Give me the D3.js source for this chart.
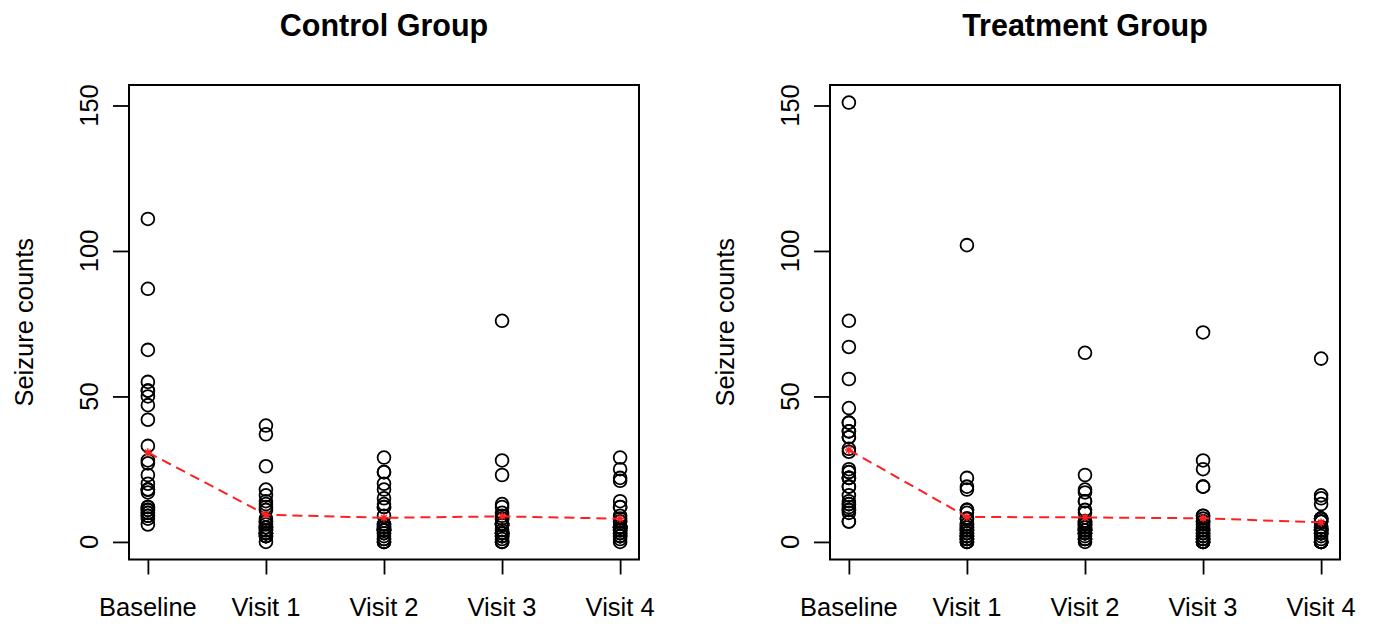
<!DOCTYPE html>
<html>
<head>
<meta charset="utf-8">
<script src="https://cdn.jsdelivr.net/npm/d3@7"></script>
<style>
  body { margin: 0; background: #fff; }
  svg text { font-family: "Liberation Sans", Arial, Helvetica, sans-serif; fill: #000; }
</style>
</head>
<body>
<svg id="chart" width="1375" height="626"></svg>
<script>
const visits = ['Baseline', 'Visit 1', 'Visit 2', 'Visit 3', 'Visit 4']
const yTicks = [0, 50, 100, 150]

// seizure counts per patient, one array per visit
const controlBaseline = [11, 11, 6, 8, 66, 27, 12, 52, 23, 10, 52, 33, 18, 42, 87, 50, 18, 111, 18, 20, 12, 9, 17, 28, 55, 9, 10, 47]
const controlVisit1 = [5, 3, 2, 4, 7, 5, 6, 40, 5, 14, 26, 12, 4, 7, 16, 11, 0, 37, 3, 3, 3, 3, 2, 8, 18, 2, 3, 13]
const controlVisit2 = [3, 5, 4, 4, 18, 2, 4, 20, 6, 13, 12, 6, 4, 9, 24, 0, 0, 29, 5, 0, 4, 4, 3, 12, 24, 1, 1, 15]
const controlVisit3 = [3, 3, 0, 1, 9, 8, 0, 23, 6, 6, 6, 8, 6, 12, 10, 0, 3, 28, 2, 6, 3, 3, 3, 2, 76, 2, 4, 13]
const controlVisit4 = [3, 3, 5, 4, 21, 7, 2, 12, 5, 0, 22, 5, 2, 14, 9, 5, 3, 29, 5, 7, 4, 4, 5, 8, 25, 1, 2, 12]

const treatBaseline = [76, 38, 19, 10, 19, 24, 31, 14, 11, 67, 41, 7, 22, 13, 46, 36, 38, 7, 36, 11, 151, 22, 41, 32, 56, 24, 16, 22, 25, 13, 12]
const treatVisit1 = [11, 8, 0, 3, 2, 4, 22, 5, 2, 3, 4, 2, 0, 5, 11, 10, 19, 1, 6, 2, 102, 4, 8, 1, 18, 6, 3, 1, 2, 0, 1]
const treatVisit2 = [14, 7, 4, 6, 6, 3, 17, 4, 4, 7, 18, 1, 2, 4, 14, 5, 7, 1, 10, 1, 65, 3, 6, 3, 11, 3, 5, 23, 3, 0, 4]
const treatVisit3 = [9, 9, 3, 1, 7, 1, 19, 7, 0, 7, 2, 1, 4, 0, 25, 3, 6, 2, 8, 0, 72, 2, 5, 1, 28, 4, 4, 19, 0, 0, 3]
const treatVisit4 = [8, 4, 0, 3, 4, 3, 16, 4, 4, 7, 5, 0, 0, 3, 15, 8, 7, 3, 8, 0, 63, 4, 7, 5, 13, 0, 3, 8, 1, 0, 2]

const panels = [
  { title: 'Control Group', left: 129, series: [controlBaseline, controlVisit1, controlVisit2, controlVisit3, controlVisit4] },
  { title: 'Treatment Group', left: 830, series: [treatBaseline, treatVisit1, treatVisit2, treatVisit3, treatVisit4] }
]

const svg = d3.select('#chart')
const W = 510
const TOP = 85
const BOTTOM = 559.5

// R-style 4% padding around the data range
const yMin = 0, yMax = 151
const yPad = (yMax - yMin) * 0.04
const y = d3.scaleLinear().domain([yMin - yPad, yMax + yPad]).range([BOTTOM, TOP])

panels.forEach(p => {
  const x = d3.scaleLinear().domain([0.84, 5.16]).range([p.left, p.left + W])
  const g = svg.append('g')

  g.append('text')
    .attr('x', p.left + W / 2)
    .attr('y', 36)
    .attr('text-anchor', 'middle')
    .style('font-size', '30.5px')
    .style('font-weight', 'bold')
    .text(p.title)

  // y axis
  const yAxis = d3.axisLeft(y).tickValues(yTicks).tickSize(16).tickFormat('')
  const ya = g.append('g').attr('transform', `translate(${p.left},0)`).call(yAxis)
  ya.select('.domain').remove()
  ya.selectAll('line').attr('stroke', '#000').attr('stroke-width', 1.8)

  g.selectAll('.ylab')
    .data(yTicks)
    .join('text')
    .attr('transform', d => `translate(${p.left - 31},${y(d)}) rotate(-90)`)
    .attr('text-anchor', 'middle')
    .style('font-size', '25.5px')
    .text(d => d)

  g.append('text')
    .attr('transform', `translate(${p.left - 96},${(TOP + BOTTOM) / 2}) rotate(-90)`)
    .attr('text-anchor', 'middle')
    .style('font-size', '25.5px')
    .text('Seizure counts')

  // x axis
  const xAxis = d3.axisBottom(x).tickValues([1, 2, 3, 4, 5]).tickSize(15).tickFormat('')
  const xa = g.append('g').attr('transform', `translate(0,${BOTTOM})`).call(xAxis)
  xa.select('.domain').remove()
  xa.selectAll('line').attr('stroke', '#000').attr('stroke-width', 1.8)

  g.selectAll('.xlab')
    .data(visits)
    .join('text')
    .attr('x', (d, i) => x(i + 1))
    .attr('y', 616)
    .attr('text-anchor', 'middle')
    .style('font-size', '25.5px')
    .text(d => d)

  // box
  g.append('rect')
    .attr('x', p.left).attr('y', TOP)
    .attr('width', W).attr('height', BOTTOM - TOP)
    .attr('fill', 'none').attr('stroke', '#000').attr('stroke-width', 2)

  // points
  const pts = p.series.flatMap((vals, i) => vals.map(v => ({ i, v })))
  g.selectAll('.pt')
    .data(pts)
    .join('circle')
    .attr('cx', d => x(d.i + 1))
    .attr('cy', d => y(d.v))
    .attr('r', 6.4)
    .attr('fill', 'none')
    .attr('stroke', '#000')
    .attr('stroke-width', 1.8)

  // mean line
  const means = p.series.map((vals, i) => ({ i, m: d3.mean(vals) }))
  const line = d3.line().x(d => x(d.i + 1)).y(d => y(d.m))
  g.append('path')
    .attr('d', line(means))
    .attr('fill', 'none')
    .attr('stroke', '#ff2020')
    .attr('stroke-width', 2)
    .attr('stroke-dasharray', '10,6')

  const s = 4
  g.selectAll('.mk')
    .data(means)
    .join('path')
    .attr('d', d => {
      const cx = x(d.i + 1), cy = y(d.m)
      return `M${cx - s},${cy}H${cx + s}M${cx},${cy - s}V${cy + s}` +
        `M${cx - s * 0.7},${cy - s * 0.7}L${cx + s * 0.7},${cy + s * 0.7}` +
        `M${cx - s * 0.7},${cy + s * 0.7}L${cx + s * 0.7},${cy - s * 0.7}`
    })
    .attr('stroke', '#ff2020')
    .attr('stroke-width', 1.5)
})
</script>
</body>
</html>
